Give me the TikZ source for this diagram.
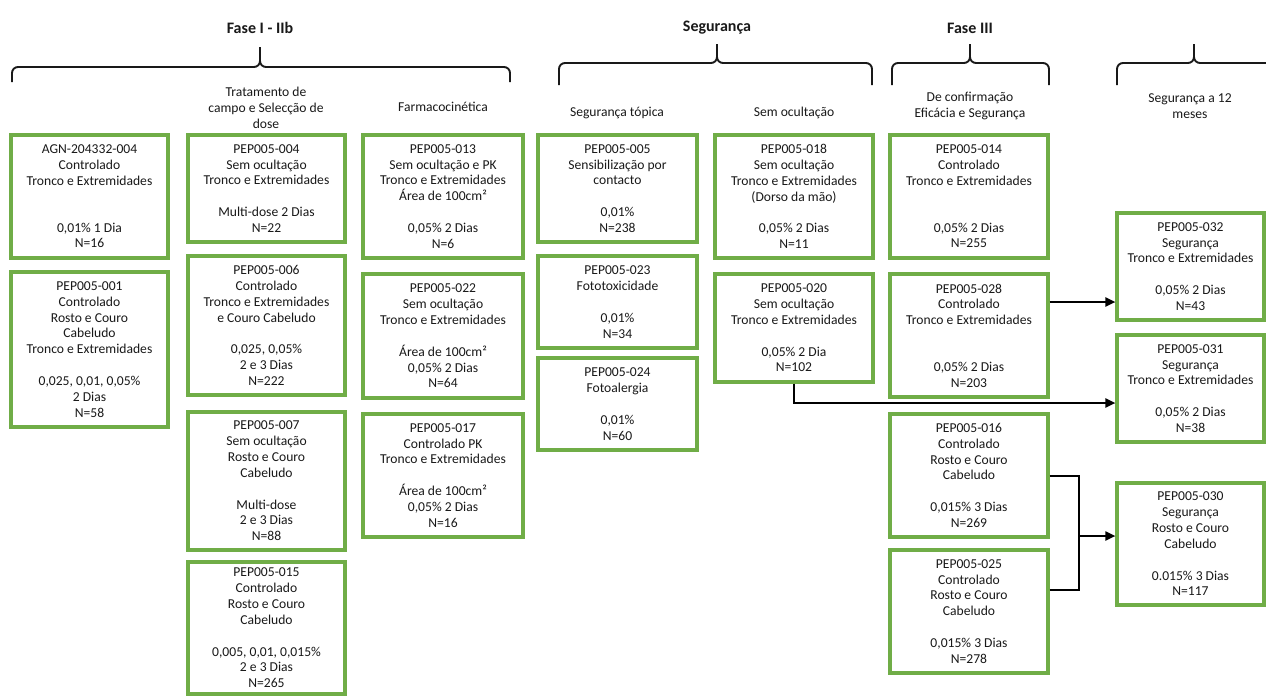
\documentclass[tikz,border=0pt]{standalone}
\usepackage{fontspec}
\setmainfont{Carlito}
\usetikzlibrary{arrows.meta}
\definecolor{boxgreen}{RGB}{112,173,71}
\definecolor{txt}{RGB}{25,25,25}
\tikzset{
  studybox/.style={draw=boxgreen, line width=3.2pt, align=center, inner sep=0pt,
    font=\fontsize{13.6}{15.8}\selectfont, text=txt},
  head/.style={font=\fontsize{16}{19}\selectfont\bfseries, text=txt},
  sub/.style={font=\fontsize{13.6}{16}\selectfont, align=center, text=txt},
  brace/.style={draw=txt, line width=1.9pt, rounded corners=6pt},
  conn/.style={draw=black, line width=2pt},
  arr/.style={conn, -{Triangle[length=10pt,width=9pt]}}
}
\newcommand\studynode[6]{\node[studybox, minimum width={(#4-#2)*1pt}, minimum height={(#5-#3)*1pt}] (#1) at ({(#2+#4)/2},{(#3+#5)/2}) {#6};}
\begin{document}
\begin{tikzpicture}[x=1pt,y=-1pt]
\useasboundingbox[fill=white] (0,0) rectangle (1266,697);

% titles
\node[head] (t1) at (260,28) {Fase I - IIb};
\node[head] (t2) at (717,28) {Segurança};
\node[head] (t3) at (970,28) {Fase III};

% braces
\draw[brace] (12,82) -- (12,67) -- (260,67) -- (260,47);
\draw[brace] (510,82) -- (510,67) -- (260,67) -- (260,47);
\draw[brace] (559,85) -- (559,63) -- (717,63) -- (717,44);
\draw[brace] (872,85) -- (872,63) -- (717,63) -- (717,44);
\draw[brace] (892,85) -- (892,63) -- (970,63) -- (970,44);
\draw[brace] (1049,85) -- (1049,63) -- (970,63) -- (970,44);
\draw[brace] (1117,85) -- (1117,63) -- (1194,63) -- (1194,44);
\draw[brace] (1275,63) -- (1194,63) -- (1194,44);

% column headers
\node[sub] (h2) at (266,108) {Tratamento de\\campo e Selecção de\\dose};
\node[sub] (h3) at (443,107) {Farmacocinética};
\node[sub] (h4) at (617,113) {Segurança tópica};
\node[sub] (h5) at (794,113) {Sem ocultação};
\node[sub] (h6) at (970,106) {De confirmação\\Eficácia e Segurança};
\node[sub] (h7) at (1190,106) {Segurança a 12\\meses};

% column 1
\studynode{b004a}{11}{135}{168}{258}{AGN-204332-004\\Controlado\\Tronco e Extremidades\\[31pt]0,01\% 1 Dia\\N=16}
\studynode{b001}{11}{272}{168}{427}{PEP005-001\\Controlado\\Rosto e Couro\\Cabeludo\\Tronco e Extremidades\\[16pt]0,025, 0,01, 0,05\%\\2 Dias\\N=58}

% column 2
\studynode{b004}{188}{135}{345}{242}{PEP005-004\\Sem ocultação\\Tronco e Extremidades\\[16pt]Multi-dose 2 Dias\\N=22}
\studynode{b006}{188}{256}{345}{395}{PEP005-006\\Controlado\\Tronco e Extremidades\\e Couro Cabeludo\\[16pt]0,025, 0,05\%\\2 e 3 Dias\\N=222}
\studynode{b007}{188}{412}{345}{550}{PEP005-007\\Sem ocultação\\Rosto e Couro\\Cabeludo\\[16pt]Multi-dose\\2 e 3 Dias\\N=88}
\studynode{b015}{188}{562}{345}{694}{PEP005-015\\Controlado\\Rosto e Couro\\Cabeludo\\[16pt]0,005, 0,01, 0,015\%\\2 e 3 Dias\\N=265}

% column 3
\studynode{b013}{363}{135}{523}{258}{PEP005-013\\Sem ocultação e PK\\Tronco e Extremidades\\Área de 100cm²\\[16pt]0,05\% 2 Dias\\N=6}
\studynode{b022}{363}{274}{523}{398}{PEP005-022\\Sem ocultação\\Tronco e Extremidades\\[16pt]Área de 100cm²\\0,05\% 2 Dias\\N=64}
\studynode{b017}{363}{414}{523}{537}{PEP005-017\\Controlado PK\\Tronco e Extremidades\\[16pt]Área de 100cm²\\0,05\% 2 Dias\\N=16}

% column 4
\studynode{b005}{538}{135}{697}{242}{PEP005-005\\Sensibilização por\\contacto\\[16pt]0,01\%\\N=238}
\studynode{b023}{538}{256}{697}{348}{PEP005-023\\Fototoxicidade\\[16pt]0,01\%\\N=34}
\studynode{b024}{538}{358}{697}{450}{PEP005-024\\Fotoalergia\\[16pt]0,01\%\\N=60}

% column 5
\studynode{b018}{715}{135}{873}{258}{PEP005-018\\Sem ocultação\\Tronco e Extremidades\\(Dorso da mão)\\[16pt]0,05\% 2 Dias\\N=11}
\studynode{b020}{715}{274}{873}{382}{PEP005-020\\Sem ocultação\\Tronco e Extremidades\\[16pt]0,05\% 2 Dia\\N=102}

% column 6
\studynode{b014}{890}{135}{1048}{258}{PEP005-014\\Controlado\\Tronco e Extremidades\\[31pt]0,05\% 2 Dias\\N=255}
\studynode{b028}{890}{274}{1048}{397}{PEP005-028\\Controlado\\Tronco e Extremidades\\[31pt]0,05\% 2 Dias\\N=203}
\studynode{b016}{890}{414}{1048}{537}{PEP005-016\\Controlado\\Rosto e Couro\\Cabeludo\\[16pt]0,015\% 3 Dias\\N=269}
\studynode{b025}{890}{550}{1048}{673}{PEP005-025\\Controlado\\Rosto e Couro\\Cabeludo\\[16pt]0,015\% 3 Dias\\N=278}

% column 7
\studynode{b032}{1117}{213}{1264}{320}{PEP005-032\\Segurança\\Tronco e Extremidades\\[16pt]0,05\% 2 Dias\\N=43}
\studynode{b031}{1117}{335}{1264}{442}{PEP005-031\\Segurança\\Tronco e Extremidades\\[16pt]0,05\% 2 Dias\\N=38}
\studynode{b030}{1117}{483}{1264}{605}{PEP005-030\\Segurança\\Rosto e Couro\\Cabeludo\\[16pt]0.015\% 3 Dias\\N=117}

% connectors
\draw[arr] ([yshift=33.5pt]b028.east) coordinate (s1) -- (s1 -| b032.west);
\coordinate (k) at (794,403);
\draw[arr] (b020.south) -- (k) -- (k -| b031.west);
\coordinate (j) at (1079,536);
\draw[conn] (b016.east) -| (j);
\draw[conn] ([yshift=21.5pt]b025.east) -| (j);
\draw[arr] (j) -- (j -| b030.west);
\end{tikzpicture}
\end{document}
